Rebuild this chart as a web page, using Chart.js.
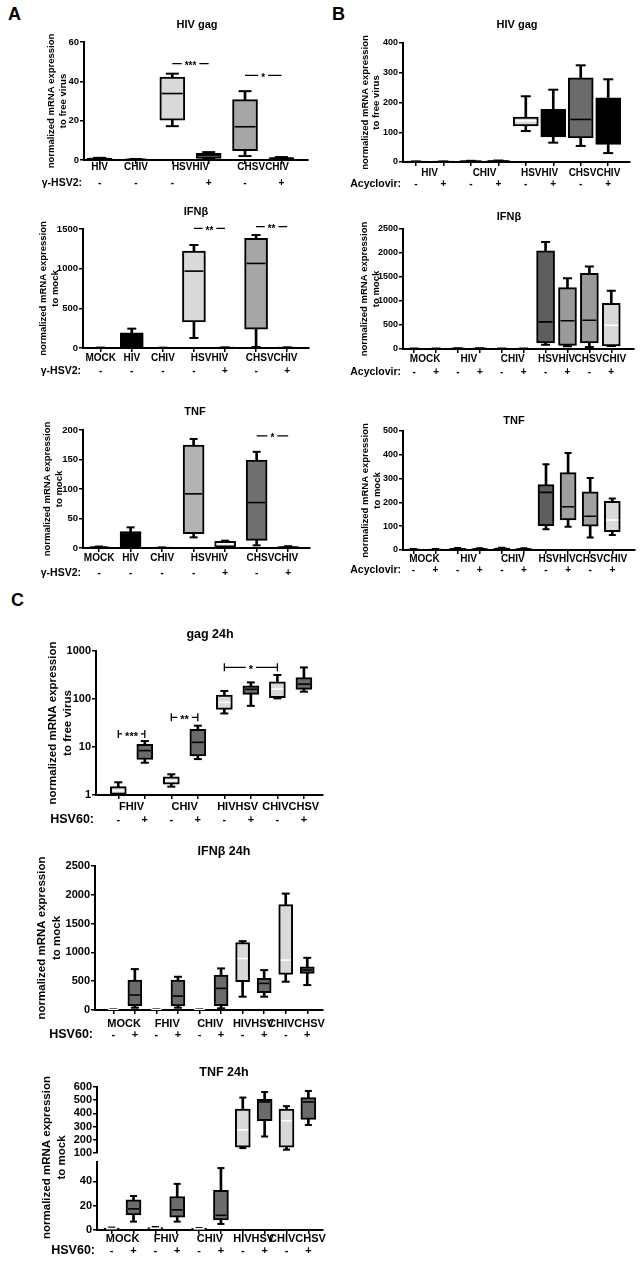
<!DOCTYPE html>
<html>
<head>
<meta charset="utf-8">
<script src="https://cdn.jsdelivr.net/npm/chart.js@4.4.1/dist/chart.umd.min.js"></script>
<style>
  body { margin: 0; background: #fff; width: 642px; height: 1272px; position: relative; overflow: hidden; font-family: "Liberation Sans", Arial, sans-serif; }
  .wrap { position: absolute; }
  .letter { position: absolute; font-weight: bold; font-size: 18px; line-height: 1; }
</style>
</head>
<body>
<div class="letter" style="left:8px;top:5px">A</div>
<div class="letter" style="left:332px;top:5px">B</div>
<div class="letter" style="left:11px;top:591px">C</div>

<div class="wrap"><canvas id="aGag"></canvas></div>
<div class="wrap"><canvas id="aIfn"></canvas></div>
<div class="wrap"><canvas id="aTnf"></canvas></div>
<div class="wrap"><canvas id="bGag"></canvas></div>
<div class="wrap"><canvas id="bIfn"></canvas></div>
<div class="wrap"><canvas id="bTnf"></canvas></div>
<div class="wrap"><canvas id="cGag"></canvas></div>
<div class="wrap"><canvas id="cIfn"></canvas></div>
<div class="wrap"><canvas id="cTnf"></canvas></div>

<script>
// every box is [min, q1, median, q3, max]

// panel A, gamma-HSV2
const aGagGroups = ["HIV", "CHIV", "HSVHIV", "CHSVCHIV"];
const aGagGroupAt = [[0], [1], [2, 3], [4, 5]];
const aGagSigns = ["-", "-", "-", "+", "-", "+"];
const aGagBoxes = [
    [0.3, 0.5, 0.7, 0.9, 1.1],
    [0.1, 0.2, 0.3, 0.4, 0.5],
    [17.2, 20.3, 33.8, 42.2, 43.9],
    [0.5, 0.8, 2.5, 3.4, 4.0],
    [2.0, 4.7, 16.9, 30.7, 35.0],
    [0.3, 0.6, 0.9, 1.2, 1.5]
];
const aGagTicks = [0, 20, 40, 60];
const aGagStars = [[2, 3, 49, "***"], [4, 5, 43, "*"]];

const aIfnGroups = ["MOCK", "HIV", "CHIV", "HSVHIV", "CHSVCHIV"];
const aIfnGroupAt = [[0], [1], [2], [3, 4], [5, 6]];
const aIfnSigns = ["-", "-", "-", "-", "+", "-", "+"];
const aIfnBoxes = [
    [0, 1, 2, 3, 5],
    [0, 2, 150, 190, 244],
    [0, 1, 2, 3, 4],
    [126, 329, 969, 1222, 1298],
    [0, 2, 4, 6, 8],
    [13, 236, 1066, 1382, 1424],
    [0, 2, 4, 6, 8]
];
const aIfnTicks = [0, 500, 1000, 1500];
const aIfnStars = [[3, 4, 1508, "**"], [5, 6, 1530, "**"]];

const aTnfGroups = ["MOCK", "HIV", "CHIV", "HSVHIV", "CHSVCHIV"];
const aTnfGroupAt = [[0], [1], [2], [3, 4], [5, 6]];
const aTnfSigns = ["-", "-", "-", "-", "+", "-", "+"];
const aTnfBoxes = [
    [0.5, 1, 1.5, 2, 2.5],
    [0, 1, 20, 28, 35],
    [0, 0.3, 0.5, 0.8, 1],
    [18, 24.2, 91.8, 174.6, 184.8],
    [1, 1.5, 7, 11.3, 12.4],
    [4.5, 13, 77, 149, 163],
    [0.5, 1, 1.5, 2.5, 3]
];
const aTnfTicks = [0, 50, 100, 150, 200];
const aTnfStars = [[5, 6, 190, "*"]];

// panel B, acyclovir
const bGagGroups = ["HIV", "CHIV", "HSVHIV", "CHSVCHIV"];
const bGagGroupAt = [[0, 1], [2, 3], [4, 5], [6, 7]];
const bGagSigns = ["-", "+", "-", "+", "-", "+", "-", "+"];
const bGagBoxes = [
    [0, 0.5, 1, 1.5, 2],
    [0, 0.5, 1, 1.5, 2],
    [1, 2, 3, 3.5, 4],
    [2, 3, 3.5, 4, 5],
    [104, 121, 138, 151, 221],
    [65, 84, 130, 177, 243],
    [54, 81, 143, 283, 325],
    [30, 59, 140, 216, 278]
];
const bGagTicks = [0, 100, 200, 300, 400];

const bIfnGroups = ["MOCK", "HIV", "CHIV", "HSVHIV", "CHSVCHIV"];
const bIfnGroupAt = [[0, 1], [2, 3], [4, 5], [6, 7], [8, 9]];
const bIfnSigns = ["-", "+", "-", "+", "-", "+", "-", "+", "-", "+"];
const bIfnBoxes = [
    [0, 2, 4, 6, 8],
    [0, 2, 4, 6, 8],
    [2, 5, 8, 12, 15],
    [2, 5, 8, 12, 15],
    [1, 3, 5, 7, 9],
    [1, 3, 5, 7, 9],
    [91, 126, 566, 2046, 2228],
    [56, 77, 587, 1278, 1473],
    [42, 126, 600, 1578, 1718],
    [63, 66, 496, 950, 1215]
];
const bIfnTicks = [0, 500, 1000, 1500, 2000, 2500];

const bTnfGroups = ["MOCK", "HIV", "CHIV", "HSVHIV", "CHSVCHIV"];
const bTnfGroupAt = [[0, 1], [2, 3], [4, 5], [6, 7], [8, 9]];
const bTnfSigns = ["-", "+", "-", "+", "-", "+", "-", "+", "-", "+"];
const bTnfBoxes = [
    [0, 1, 2, 3, 4],
    [0, 1, 2, 3, 4],
    [2, 4, 5, 7, 8],
    [2, 4, 5, 6, 7],
    [2, 4, 6, 8, 9],
    [2, 3, 5, 6, 7],
    [87, 102, 242, 275, 360],
    [98, 126, 182, 325, 408],
    [53, 100, 142, 244, 302],
    [63, 77, 126, 205, 216]
];
const bTnfTicks = [0, 100, 200, 300, 400, 500];

// panel C, HSV60
const cGagGroups = ["FHIV", "CHIV", "HIVHSV", "CHIVCHSV"];
const cGagGroupAt = [[0, 1], [2, 3], [4, 5], [6, 7]];
const cGagSigns = ["-", "+", "-", "+", "-", "+", "-", "+"];
const cGagBoxes = [
    [1.0, 1.03, 1.23, 1.49, 1.84],
    [4.7, 5.5, 8.4, 11.4, 13.3],
    [1.49, 1.69, 1.99, 2.4, 2.7],
    [5.6, 6.5, 12.5, 23.3, 27.8],
    [50, 61, 85, 121, 147],
    [72, 125, 159, 189, 222],
    [103, 107, 161, 229, 316],
    [142, 159, 204, 278, 455]
];
const cGagTicks = [1, 10, 100, 1000];
const cGagStars = [[0, 1, 18.7, "***"], [2, 3, 41.5, "**"], [4, 6, 456, "*"]];

const cIfnGroups = ["MOCK", "FHIV", "CHIV", "HIVHSV", "CHIVCHSV"];
const cIfnGroupAt = [[0, 1], [2, 3], [4, 5], [6, 7], [8, 9]];
const cIfnSigns = ["-", "+", "-", "+", "-", "+", "-", "+", "-", "+"];
const cIfnBoxes = [
    [0, 3, 6, 9, 12],
    [40, 75, 260, 520, 710],
    [0, 3, 6, 9, 12],
    [40, 69, 242, 520, 577],
    [0, 3, 6, 9, 12],
    [29, 75, 375, 606, 722],
    [231, 491, 895, 1172, 1195],
    [231, 300, 462, 548, 693],
    [491, 618, 866, 1830, 2021],
    [433, 635, 693, 750, 906]
];
const cIfnTicks = [0, 500, 1000, 1500, 2000, 2500];

const cTnfGroups = ["MOCK", "FHIV", "CHIV", "HIVHSV", "CHIVCHSV"];
const cTnfGroupAt = [[0, 1], [2, 3], [4, 5], [6, 7], [8, 9]];
const cTnfSigns = ["-", "+", "-", "+", "-", "+", "-", "+", "-", "+"];
const cTnfBoxes = [
    [0.5, 1, 1.2, 1.5, 2],
    [6.9, 12.4, 17.4, 24.8, 28],
    [0.5, 1, 1.5, 2, 2.5],
    [6.9, 10.5, 16.6, 27.6, 38],
    [0.5, 0.8, 1, 1.3, 1.6],
    [5, 8.3, 12.1, 32.6, 51],
    [137, 145, 275, 432, 520],
    [225, 345, 487, 507, 562],
    [125, 145, 345, 432, 455],
    [312, 355, 487, 520, 570]
];
const cTnfSplit = 100;          // broken axis: boxes at or above this go to the upper part
const cTnfTopTicks = [100, 200, 300, 400, 500, 600];
const cTnfLowTicks = [0, 20, 40];

// ---------------------------------------------------------------- styles
const FAM = '"Liberation Sans", Arial, sans-serif';
Chart.defaults.font.family = FAM;
Chart.defaults.font.weight = "bold";
Chart.defaults.color = "#000";

const LT = "#d9d9d9", MD = "#a6a6a6", DK = "#6b6b6b", BK = "#000000", WH = "#ffffff";
const SMALL = {tick: 9.5, group: 10, sign: 10, row: 10.5, title: 11, ytitle: 9.5, yLine: 1.35, lw: 2};
const NARROW = Object.assign({}, SMALL, {tick: 9, yLine: 1.2});
const LARGE = {tick: 11, group: 11, sign: 11, row: 12.5, title: 12.5, ytitle: 11.5, yLine: 1.25, lw: 2};
const alt = n => Array.from({length: n}, (_, i) => (i % 2 ? DK : LT));
const altMed = n => Array.from({length: n}, (_, i) => (i % 2 ? BK : WH));
const allBlack = n => Array(n).fill(BK);

function boxSets(boxes, fills, meds, st, yAxisID, keep) {
    const idx = boxes.map((b, i) => i).filter(i => keep(boxes[i]));
    const at = k => idx.map(i => ({x: i, y: boxes[i][k]}));
    const span = (a, b) => idx.map(i => ({x: i, y: [boxes[i][a], boxes[i][b]]}));
    const cap = k => ({
        type: "line", yAxisID, order: 2, showLine: false, pointStyle: "line",
        pointRadius: st.cap, pointBorderWidth: st.lw, pointBorderColor: BK, data: at(k)
    });
    return [
        {type: "bar", yAxisID, order: 4, grouped: false, barThickness: st.lw, maxBarThickness: st.lw,
            backgroundColor: BK, data: span(0, 4)},
        {type: "bar", yAxisID, order: 3, grouped: false, barThickness: st.box, maxBarThickness: st.box,
            backgroundColor: idx.map(i => fills[i]), borderColor: BK, borderWidth: st.lw,
            borderSkipped: false, data: span(1, 3)},
        cap(4),
        cap(0),
        {type: "line", yAxisID, order: 1, showLine: false, pointStyle: "line",
            pointRadius: st.box / 2 - st.lw, pointBorderWidth: 1.6,
            pointBorderColor: idx.map(i => meds[i]), data: at(2)}
    ];
}

function decor(c) {
    return {
        id: "decor",
        afterDraw(chart) {
            const {ctx, chartArea: a} = chart;
            const x = chart.scales.x, y = chart.scales.y;
            const f = c.font, ox = c.rect[0], oy = c.rect[1];
            ctx.save();
            ctx.fillStyle = BK;
            ctx.strokeStyle = BK;
            ctx.textBaseline = "middle";
            ctx.textAlign = "center";
            ctx.font = `bold ${f.title}px ${FAM}`;
            ctx.fillText(c.title, c.titleAt[0] - ox, c.titleAt[1] - oy);
            ctx.font = `bold ${f.group}px ${FAM}`;
            c.groups.forEach((g, k) => {
                const xs = c.groupAt[k].map(i => x.getPixelForValue(i));
                ctx.fillText(g, (xs[0] + xs[xs.length - 1]) / 2, c.groupY - oy);
            });
            (c.stars || []).forEach(([i, j, v, label]) => {
                const x1 = x.getPixelForValue(i), x2 = x.getPixelForValue(j);
                const yy = y.getPixelForValue(v);
                const m = (x1 + x2) / 2, w = ctx.measureText(label).width / 2 + 3;
                ctx.lineWidth = 1.3;
                ctx.beginPath();
                ctx.moveTo(x1, yy); ctx.lineTo(m - w, yy);
                ctx.moveTo(m + w, yy); ctx.lineTo(x2, yy);
                if (c.starCaps) {
                    ctx.moveTo(x1, yy - 4); ctx.lineTo(x1, yy + 4);
                    ctx.moveTo(x2, yy - 4); ctx.lineTo(x2, yy + 4);
                }
                ctx.stroke();
                ctx.fillText(label, m, yy + f.group * 0.25);
            });
            ctx.textAlign = "right";
            ctx.font = `bold ${f.row}px ${FAM}`;
            ctx.fillText(c.rowLabel, a.left - 2, c.signY - oy);
            ctx.restore();
        }
    };
}

function yAxis(c, ax, extra) {
    return Object.assign({
        type: ax.type || "linear",
        position: "left",
        min: ax.min,
        max: ax.max,
        afterBuildTicks: s => { s.ticks = ax.ticks.map(v => ({value: v})); },
        afterFit: s => { s.width = c.yW; },
        ticks: {padding: 1, autoSkip: false, font: {size: c.font.tick}, callback: v => String(v)},
        grid: {drawOnChartArea: false, color: BK, lineWidth: 1.5, tickLength: 4},
        border: {color: BK, width: c.font.lw}
    }, extra);
}

function yTitle(c) {
    return {display: true, text: c.yTitle, padding: 0, color: BK,
        font: {size: c.font.ytitle, weight: "bold", lineHeight: c.font.yLine}};
}

function boxChart(id, c) {
    const [cx, cy, cw, ch] = c.rect;
    const [L, T, R, B] = c.area;
    const canvas = document.getElementById(id);
    Object.assign(canvas.parentNode.style, {left: cx + "px", top: cy + "px", width: cw + "px", height: ch + "px"});
    const f = c.font;
    const xH = cy + ch - B;
    const signPad = c.signY - B - 4 - 0.6 * f.sign;

    const scales = {
        x: {
            type: "linear",
            min: c.xRange[0],
            max: c.xRange[1],
            offset: false,
            afterBuildTicks: s => { s.ticks = c.signs.map((_, i) => ({value: i})); },
            afterFit: s => { s.height = xH; },
            ticks: {callback: v => c.signs[v], autoSkip: false, maxRotation: 0,
                padding: signPad, font: {size: f.sign}},
            grid: {drawOnChartArea: false, offset: false, color: BK, lineWidth: 1.5, tickLength: 4},
            border: {color: BK, width: f.lw}
        }
    };

    let datasets;
    if (c.split) {
        const s = c.split;
        scales.yTop = yAxis(c, s.top, {stack: "s", stackWeight: s.weights[0], weight: 3});
        scales.yGap = {
            type: "linear", position: "left", stack: "s", stackWeight: s.weights[1], weight: 2,
            min: 0, max: 1, afterFit: sc => { sc.width = c.yW; },
            ticks: {display: false}, grid: {display: false}, border: {display: false},
            title: yTitle(c)
        };
        scales.yBot = yAxis(c, s.low, {stack: "s", stackWeight: s.weights[2], weight: 1});
        datasets = boxSets(c.boxes, c.fills, c.meds, c.st, "yTop", b => b[0] >= s.at)
            .concat(boxSets(c.boxes, c.fills, c.meds, c.st, "yBot", b => b[0] < s.at));
    } else {
        scales.y = yAxis(c, c.y, {title: yTitle(c)});
        datasets = boxSets(c.boxes, c.fills, c.meds, c.st, "y", () => true);
    }

    new Chart(canvas.getContext("2d"), {
        type: "bar",
        data: {datasets: datasets},
        options: {
            responsive: true,
            maintainAspectRatio: false,
            animation: false,
            events: [],
            layout: {padding: {left: L - cx - c.yW, top: T - cy, right: cx + cw - R, bottom: 0}},
            plugins: {legend: {display: false}, tooltip: {enabled: false}, title: {display: false}},
            scales: scales
        },
        plugins: [decor(c)]
    });
}

const virusTitle = ["normalized mRNA expression", "to free virus"];
const mockTitle = ["normalized mRNA expression", "to mock"];

boxChart("aGag", {
    rect: [0, 10, 320, 185], area: [84, 42, 312, 160], yW: 39.4, xRange: [-0.43, 5.73],
    font: SMALL, st: {box: 25, cap: 6.5, lw: 2},
    title: "HIV gag", titleAt: [197, 25], groupY: 167, signY: 183, rowLabel: "γ-HSV2:",
    yTitle: virusTitle, y: {min: 0, max: 60, ticks: aGagTicks},
    signs: aGagSigns, groups: aGagGroups, groupAt: aGagGroupAt, boxes: aGagBoxes, stars: aGagStars,
    fills: [BK, BK, LT, DK, MD, DK], meds: allBlack(6)
});

boxChart("aIfn", {
    rect: [0, 198, 320, 182], area: [83, 229, 310, 348], yW: 46.4, xRange: [-0.57, 6.7],
    font: SMALL, st: {box: 23, cap: 4.5, lw: 2},
    title: "IFNβ", titleAt: [196, 212], groupY: 358, signY: 371, rowLabel: "γ-HSV2:",
    yTitle: mockTitle, y: {min: 0, max: 1500, ticks: aIfnTicks},
    signs: aIfnSigns, groups: aIfnGroups, groupAt: aIfnGroupAt, boxes: aIfnBoxes, stars: aIfnStars,
    fills: [BK, BK, BK, LT, DK, MD, DK], meds: allBlack(7)
});

boxChart("aTnf", {
    rect: [0, 392, 320, 190], area: [83, 430, 310, 548], yW: 42.4, xRange: [-0.51, 6.69],
    font: SMALL, st: {box: 21, cap: 4, lw: 2},
    title: "TNF", titleAt: [195, 412], groupY: 558, signY: 573, rowLabel: "γ-HSV2:",
    yTitle: mockTitle, y: {min: 0, max: 200, ticks: aTnfTicks},
    signs: aTnfSigns, groups: aTnfGroups, groupAt: aTnfGroupAt, boxes: aTnfBoxes, stars: aTnfStars,
    fills: [BK, BK, BK, "#b3b3b3", LT, "#707070", DK], meds: [BK, BK, BK, BK, WH, BK, BK]
});

boxChart("bGag", {
    rect: [320, 10, 322, 185], area: [403, 43, 632, 162], yW: 43.5, xRange: [-0.47, 7.79],
    font: NARROW, st: {box: 25, cap: 5, lw: 2},
    title: "HIV gag", titleAt: [517, 25], groupY: 173, signY: 184, rowLabel: "Acyclovir:",
    yTitle: virusTitle, y: {min: 0, max: 400, ticks: bGagTicks},
    signs: bGagSigns, groups: bGagGroups, groupAt: bGagGroupAt, boxes: bGagBoxes,
    fills: [BK, BK, BK, BK, LT, BK, DK, BK], meds: [BK, BK, BK, BK, WH, BK, BK, BK]
});

boxChart("bIfn", {
    rect: [320, 198, 322, 182], area: [403, 229, 635, 349], yW: 44, xRange: [-0.51, 10.01],
    font: NARROW, st: {box: 18, cap: 4.5, lw: 2},
    title: "IFNβ", titleAt: [509, 217], groupY: 359, signY: 372, rowLabel: "Acyclovir:",
    yTitle: mockTitle, y: {min: 0, max: 2500, ticks: bIfnTicks},
    signs: bIfnSigns, groups: bIfnGroups, groupAt: bIfnGroupAt, boxes: bIfnBoxes,
    fills: [BK, BK, BK, BK, BK, BK, "#5e5e5e", "#9a9a9a", "#9a9a9a", LT],
    meds: [BK, BK, BK, BK, BK, BK, BK, BK, BK, WH]
});

boxChart("bTnf", {
    rect: [320, 392, 322, 190], area: [403, 431, 635, 550], yW: 43, xRange: [-0.47, 10.0],
    font: NARROW, st: {box: 16, cap: 3.5, lw: 2},
    title: "TNF", titleAt: [514, 421], groupY: 559, signY: 570, rowLabel: "Acyclovir:",
    yTitle: mockTitle, y: {min: 0, max: 500, ticks: bTnfTicks},
    signs: bTnfSigns, groups: bTnfGroups, groupAt: bTnfGroupAt, boxes: bTnfBoxes,
    fills: [BK, BK, BK, BK, BK, BK, "#5e5e5e", "#a0a0a0", "#a0a0a0", LT],
    meds: [BK, BK, BK, BK, BK, BK, BK, BK, BK, WH]
});

boxChart("cGag", {
    rect: [0, 620, 340, 210], area: [96, 651, 323, 795], yW: 50, xRange: [-0.84, 7.72],
    font: LARGE, st: {box: 16, cap: 4, lw: 2},
    title: "gag 24h", titleAt: [210, 635], groupY: 807, signY: 820, rowLabel: "HSV60:",
    yTitle: virusTitle, y: {type: "logarithmic", min: 1, max: 1000, ticks: cGagTicks},
    signs: cGagSigns, groups: cGagGroups, groupAt: cGagGroupAt, boxes: cGagBoxes,
    stars: cGagStars, starCaps: true,
    fills: alt(8), meds: altMed(8)
});

boxChart("cIfn", {
    rect: [0, 838, 340, 205], area: [95, 866, 323, 1010], yW: 60, xRange: [-0.85, 9.73],
    font: LARGE, st: {box: 14, cap: 4, lw: 2},
    title: "IFNβ 24h", titleAt: [224, 852], groupY: 1024, signY: 1035, rowLabel: "HSV60:",
    yTitle: mockTitle, y: {min: 0, max: 2500, ticks: cIfnTicks},
    signs: cIfnSigns, groups: cIfnGroups, groupAt: cIfnGroupAt, boxes: cIfnBoxes,
    fills: alt(10), meds: altMed(10)
});

boxChart("cTnf", {
    rect: [0, 1058, 340, 210], area: [97, 1087, 323, 1230], yW: 57, xRange: [-0.67, 9.67],
    font: LARGE, st: {box: 15, cap: 3.5, lw: 2},
    title: "TNF 24h", titleAt: [224, 1073], groupY: 1239, signY: 1251, rowLabel: "HSV60:",
    yTitle: mockTitle,
    split: {
        at: cTnfSplit, weights: [66, 9, 68],
        top: {min: 100, max: 600, ticks: cTnfTopTicks},
        low: {min: 0, max: 56, ticks: cTnfLowTicks}
    },
    signs: cTnfSigns, groups: cTnfGroups, groupAt: cTnfGroupAt, boxes: cTnfBoxes,
    fills: alt(10), meds: altMed(10)
});
</script>
</body>
</html>
